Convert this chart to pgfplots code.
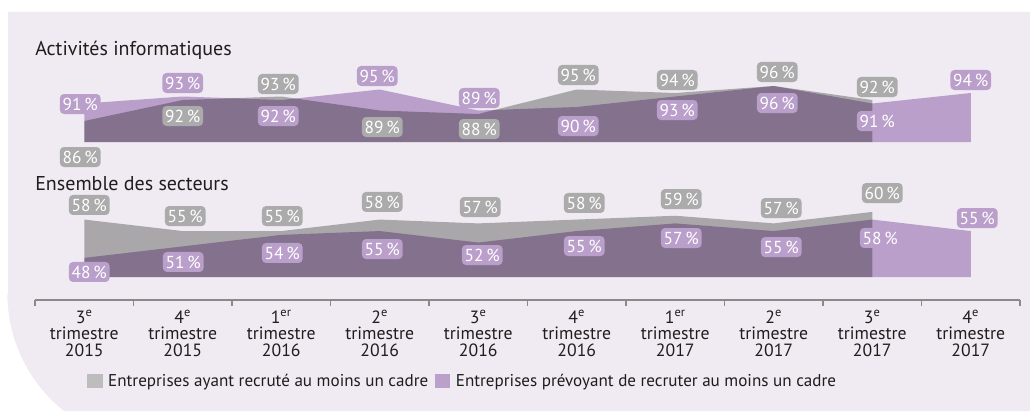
\documentclass[border=0pt]{standalone}
\usepackage{fontspec}
\setmainfont{PT Sans}
\usepackage{pgfplots}
\usepackage{pgfplotstable}
\pgfplotsset{compat=1.18}
\definecolor{bg}{HTML}{F0EBF2}
\definecolor{greyA}{HTML}{A9A7AA}
\definecolor{purpA}{HTML}{C7ADD6}
\definecolor{greyL}{HTML}{ABABAB}
\definecolor{purpL}{HTML}{BB9FCB}
\definecolor{greyLeg}{HTML}{BDBDBD}
\definecolor{purpLeg}{HTML}{BBA0CB}
\definecolor{axisgrey}{HTML}{8A8A8A}
\definecolor{txt}{HTML}{1E1E1E}

\pgfplotsset{
  /pgf/number format/assume math mode=true,
  lab/.style={draw=none, mark=none, point meta=y,
    nodes near coords={\pgfmathprintnumber{\pgfplotspointmeta}\,\%},
    nodes near coords align=center,
    visualization depends on={\thisrow{dx} \as \dx},
    visualization depends on={\thisrow{dy} \as \dy},
    every node near coord/.append style={anchor=center, fill=#1, text=white,
      rounded corners=3pt, minimum width=30.5pt, minimum height=15pt,
      inner sep=0pt, font=\fontsize{13}{13}\selectfont,
      xshift=\dx*0.75pt, yshift=\dy*0.75pt}},
  sqlegend/.style={legend image code/.code={\fill[##1, draw=none] (0pt,-5.6pt) rectangle (11.5pt,5.6pt); \path (13.5pt,0pt);}},
}

% top panel (Activités informatiques)
\pgfplotstableread{
x y dx dy
0 86 -4 -36
1 92 0 -16
2 93 -3 12.5
3 89 2.5 -16.5
4 88 1 -15
5 95 1.5 14.5
6 94 2 13
7 96 3.5 14
8 92 5 13
}\topGreyLab
\pgfplotstableread{
x y dx dy
0 91 -4 -0.5
1 93 0 13.5
2 92 -3 -16
3 95 -2.5 13.5
4 89 1 12.5
5 90 1.5 -19
6 93 2 -13.5
7 96 3.5 -17
8 91 5 -17.5
9 94 0 13
}\topPurpLab
% bottom panel (Ensemble des secteurs)
\pgfplotstableread{
x y dx dy
0 58 5 14.6
1 55 2.5 15
2 55 1 15
3 58 2.5 17.6
4 57 2 16.4
5 58 7.5 16.6
6 59 6 16.7
7 57 7.5 15.4
8 60 10 18.9
}\botGreyLab
\pgfplotstableread{
x y dx dy
0 48 5 -14.1
1 51 0.5 -15.6
2 54 1 -18.1
3 55 2.5 -18
4 52 4 -12.5
5 55 7.5 -15
6 57 6 -14.6
7 55 7.5 -16
8 58 8 -18.4
9 55 6.5 13
}\botPurpLab

\begin{document}
\begin{tikzpicture}
\useasboundingbox (0,0) rectangle (772.5pt,308.25pt);
\fill[bg] (6pt,88.5pt) -- (6pt,299.25pt) -- (772.5pt,299.25pt) -- (772.5pt,0pt) -- (48pt,0pt)
  arc[start angle=231.5, end angle=180, radius=112.5pt] -- cycle;

\node[anchor=base west, inner sep=0pt, text=txt, font=\fontsize{15}{17}\selectfont] at (26.25pt,266.25pt) {Activités informatiques};
\node[anchor=base west, inner sep=0pt, text=txt, font=\fontsize{15}{17}\selectfont] at (26.25pt,165.75pt) {Ensemble des secteurs};

\begin{axis}[
  at={(26.25pt,201.75pt)}, anchor=south west,
  x=73.875pt, y=2.625pt,
  xmin=-0.5, xmax=9.5, ymin=80, ymax=100,
  hide axis, clip=false,
]
\addplot[fill=greyA, draw=none] coordinates {(0,80) (0,86) (1,92) (2,93) (3,89) (4,88) (5,95) (6,94) (7,96) (8,92) (8,80)};
\addplot[fill=purpA, draw=none, blend mode=multiply] coordinates {(0,80) (0,91) (1,93) (2,92) (3,95) (4,89) (5,90) (6,93) (7,96) (8,91) (9,94) (9,80)};
\addplot[lab=greyL] table[x=x, y=y] {\topGreyLab};
\addplot[lab=purpL] table[x=x, y=y] {\topPurpLab};
\end{axis}

\begin{axis}[
  at={(26.25pt,83.25pt)}, anchor=south west,
  x=73.875pt, y=2.8725pt,
  xmin=-0.5, xmax=9.5, ymin=37, ymax=65,
  axis x line=bottom, axis y line=none, clip=false,
  axis line style={draw=axisgrey, line width=0.8pt, -},
  xtick={0,...,9},
  xticklabels={{3\textsuperscript{e}\\trimestre\\2015},{4\textsuperscript{e}\\trimestre\\2015},
    {1\textsuperscript{er}\\trimestre\\2016},{2\textsuperscript{e}\\trimestre\\2016},
    {3\textsuperscript{e}\\trimestre\\2016},{4\textsuperscript{e}\\trimestre\\2016},
    {1\textsuperscript{er}\\trimestre\\2017},{2\textsuperscript{e}\\trimestre\\2017},
    {3\textsuperscript{e}\\trimestre\\2017},{4\textsuperscript{e}\\trimestre\\2017}},
  major tick length=0pt,
  minor xtick={-0.5,0.5,...,9.5},
  minor tick length=4.5pt,
  tick align=outside,
  minor tick style={draw=axisgrey, line width=0.8pt},
  xticklabel style={align=center, text=txt, font=\fontsize{13.3}{12.4}\selectfont, yshift=-4pt},
  sqlegend,
  legend style={at={(0.0528,-0.755)}, anchor=west, draw=none, fill=none, inner sep=0pt,
    legend columns=2, font=\fontsize{12.8}{14}\selectfont, text=txt,
    /tikz/every even column/.append style={column sep=3pt}},
  legend cell align=left,
]
\addlegendimage{fill=greyLeg}
\addlegendentry{Entreprises ayant recruté au moins un cadre}
\addlegendimage{fill=purpLeg}
\addlegendentry{Entreprises prévoyant de recruter au moins un cadre}
\addplot[forget plot, fill=greyA, draw=none] coordinates {(0,43) (0,58) (1,55) (2,55) (3,58) (4,57) (5,58) (6,59) (7,57) (8,60) (8,43)};
\addplot[forget plot, fill=purpA, draw=none, blend mode=multiply] coordinates {(0,43) (0,48) (1,51) (2,54) (3,55) (4,52) (5,55) (6,57) (7,55) (8,58) (9,55) (9,43)};
\addplot[forget plot, lab=greyL] table[x=x, y=y] {\botGreyLab};
\addplot[forget plot, lab=purpL] table[x=x, y=y] {\botPurpLab};
\end{axis}
\end{tikzpicture}
\end{document}
